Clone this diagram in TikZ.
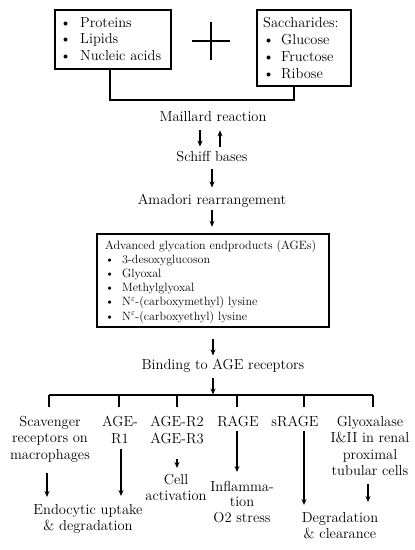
\documentclass[tikz,border=0pt]{standalone}
\usetikzlibrary{arrows.meta}
\begin{document}
\begin{tikzpicture}[x=1pt,y=-1pt,
 txt/.style={inner sep=0pt, font=\fontsize{14.5}{16.5}\selectfont, align=center},
 lst/.style={inner sep=0pt, anchor=base west},
 box/.style={draw, line width=2.4pt, inner sep=0pt},
 arr/.style={line width=1.3pt, -{Stealth[length=6pt,width=5pt]}},
 ln/.style={line width=1.6pt},
]
\useasboundingbox (0,0) rectangle (415,550);

% boxes
\node[box, minimum width=116pt, minimum height=59pt] (box1) at (113,39.5) {};
\node[box, minimum width=94pt, minimum height=76pt] (box2) at (304,48) {};
\node[box, minimum width=232pt, minimum height=93pt] (agebox) at (213,280.5) {};

\node[lst, font=\fontsize{14.5}{16.5}\selectfont] (list1) at (60,27)
 {\begin{tabular}[t]{@{}p{20pt}@{}l@{}}\textbullet & Proteins\\ \textbullet & Lipids\\ \textbullet & Nucleic acids\end{tabular}};
\node[lst, font=\fontsize{14.5}{17}\selectfont] (list2) at (263,27)
 {\begin{tabular}[t]{@{}p{18pt}@{}l@{}}\multicolumn{2}{@{}l@{}}{Saccharides:}\\ \textbullet & Glucose\\ \textbullet & Fructose\\ \textbullet & Ribose\end{tabular}};
\node[lst, font=\fontsize{12}{14.2}\selectfont] (list3) at (105,249)
 {\begin{tabular}[t]{@{}p{17pt}@{}l@{}}\multicolumn{2}{@{}l@{}}{Advanced glycation endproducts (AGEs)}\\
 \textbullet & 3-desoxyglucoson\\ \textbullet & Glyoxal\\ \textbullet & Methylglyoxal\\
 \textbullet & N$^{\varepsilon}$-(carboxymethyl) lysine\\ \textbullet & N$^{\varepsilon}$-(carboxyethyl) lysine\end{tabular}};

% plus sign
\draw[line width=2.4pt] (192,41) -- (230,41) (211,22) -- (211,60);

% bracket
\draw[ln] ([xshift=-3pt]box1.south) -- ++(0,30) -| ([xshift=-10pt]box2.south);

% main texts
\node[txt, anchor=base] (mail) at (213,121) {Maillard reaction};
\node[txt, anchor=base] (schiff) at (212,161) {Schiff bases};
\node[txt, anchor=base] (amad) at (212,204) {Amadori rearrangement};
\node[txt, anchor=base] (bind) at (223,369) {Binding to AGE receptors};

% columns
\node[txt, anchor=north] (c1) at (50,416) {Scavenger\\receptors on\\macrophages};
\node[txt, anchor=north] (c2) at (120,416) {AGE-\\R1};
\node[txt, anchor=north] (c3) at (177,416) {AGE-R2\\AGE-R3};
\node[txt, anchor=north] (c4) at (238,416) {RAGE};
\node[txt, anchor=north] (c5) at (295,416) {sRAGE};
\node[txt, anchor=north] (c6) at (370,416) {Glyoxalase\\I\&II in renal\\proximal\\tubular cells};

% results
\node[txt, anchor=north] (r1) at (88,504) {Endocytic uptake\\\& degradation};
\node[txt, anchor=north] (r3) at (176,474) {Cell\\activation};
\node[txt, anchor=north, font=\fontsize{14.5}{15.5}\selectfont] (r4) at (242,481) {Inflamma-\\tion\\O2 stress};
\node[txt, anchor=north] (r5) at (340,512) {Degradation\\\& clearance};

% upper arrows
\draw[arr, shorten <=9pt, shorten >=4pt] ([xshift=-13pt]mail.south) -- ([xshift=-13pt]mail.south |- schiff.north);
\draw[arr, shorten <=4pt, shorten >=9pt] ([xshift=7pt]mail.south |- schiff.north) -- ([xshift=7pt]mail.south);
\draw[arr, shorten <=7pt, shorten >=6pt] (schiff.south) -- (schiff.south |- amad.north);
\draw[arr, shorten <=3pt, shorten >=6pt] (amad.south) -- (amad.south |- agebox.north);
\draw[arr, shorten <=11pt, shorten >=3pt] (agebox.south) -- (agebox.south |- bind.north);

% bar
\coordinate (bt) at (213,395);
\coordinate (b1) at (49,395);
\coordinate (b2) at (119,395);
\coordinate (b3) at (177,395);
\coordinate (b4) at (237,395);
\coordinate (b5) at (304,395);
\coordinate (b6) at (373,395);
\draw[arr, shorten <=6pt, shorten >=0.5pt] (bt |- bind.south) -- (bt);
\draw[ln] (b1) -- (b6);
\foreach \b/\c in {b1/c1,b2/c2,b3/c3,b4/c4,b5/c5,b6/c6}
  \draw[ln, shorten >=9pt] (\b) -- (\b |- \c.north);

% lower arrows
\draw[arr, shorten <=10pt, shorten >=7pt] ([xshift=-3pt]c1.south) -- ([xshift=-3pt]c1.south |- r1.north);
\draw[arr, shorten <=5.5pt, shorten >=8pt] ([xshift=1pt]c2.south) -- ([xshift=1pt]c2.south |- r1.north);
\draw[arr, shorten <=15.5pt, shorten >=6pt] (c3.south) -- (c3.south |- r3.north);
\draw[arr, shorten <=4pt, shorten >=9pt] ([xshift=-1pt]c4.south) -- ([xshift=-1pt]c4.south |- r4.north);
\draw[arr, shorten <=4pt, shorten >=7pt] ([xshift=9pt]c5.south) -- ([xshift=9pt]c5.south |- r5.north);
\draw[arr, shorten <=7.5pt, shorten >=10pt] ([xshift=-2pt]c6.south) -- ([xshift=-2pt]c6.south |- r5.north);
\end{tikzpicture}
\end{document}
